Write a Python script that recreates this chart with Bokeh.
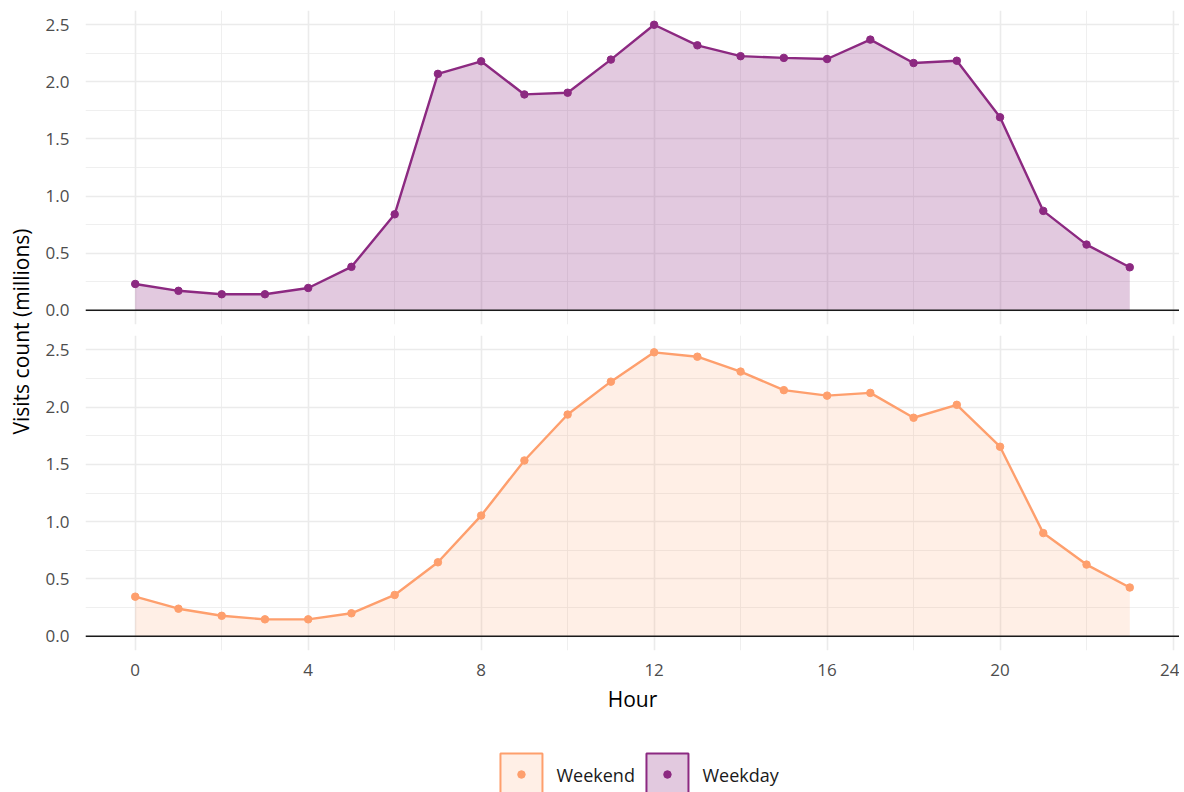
from bokeh.plotting import figure
from bokeh.layouts import column, row
from bokeh.models import (Range1d, FixedTicker, Grid, Span, Title, ColumnDataSource,
                          PrintfTickFormatter)
from bokeh.core.properties import value
from bokeh.embed import file_html
from bokeh.resources import INLINE

# ---------------- data ----------------
hours = list(range(24))
weekday = [0.23, 0.17, 0.14, 0.14, 0.195, 0.38, 0.84, 2.07, 2.18, 1.89, 1.905, 2.195,
           2.50, 2.32, 2.225, 2.21, 2.20, 2.37, 2.165, 2.185, 1.69, 0.87, 0.575, 0.376]
weekend = [0.345, 0.24, 0.178, 0.147, 0.147, 0.20, 0.36, 0.645, 1.053, 1.534, 1.935, 2.222,
           2.478, 2.44, 2.31, 2.148, 2.10, 2.124, 1.907, 2.02, 1.654, 0.90, 0.625, 0.425]
series_names = ["Weekend", "Weekday"]
x_major = [0, 4, 8, 12, 16, 20, 24]
x_minor = [2, 6, 10, 14, 18, 22]
y_major = [0.0, 0.5, 1.0, 1.5, 2.0, 2.5]
y_minor = [0.25, 0.75, 1.25, 1.75, 2.25]
x_title = "Hour"
y_title = "Visits count (millions)"

colors = {"Weekday": "#8C2981", "Weekend": "#FE9F6D"}
alphas = {"Weekday": 0.25, "Weekend": 0.17}
values = {"Weekday": weekday, "Weekend": weekend}

FONT = "Open Sans"
GRID = "#EBEBEB"
FRAME_W = 1094
YLAB_W = 39
LEFT = 85 - YLAB_W


def hide_default_grids(p):
    for r in p.center:
        if isinstance(r, Grid):
            r.visible = False


def add_grids(p):
    p.add_layout(Grid(dimension=0, ticker=FixedTicker(ticks=x_major, minor_ticks=x_minor),
                      grid_line_color=GRID, grid_line_width=1.6,
                      minor_grid_line_color=GRID, minor_grid_line_width=0.8), "center")
    p.add_layout(Grid(dimension=1, ticker=FixedTicker(ticks=y_major, minor_ticks=y_minor),
                      grid_line_color=GRID, grid_line_width=1.6,
                      minor_grid_line_color=GRID, minor_grid_line_width=0.8), "center")


def make_panel(name, frame_h, top_border, bottom_border, show_x):
    p = figure(frame_width=FRAME_W, frame_height=frame_h,
               x_range=Range1d(-1.15, 24.15), y_range=Range1d(-0.125, 2.625),
               x_axis_location="below" if show_x else None,
               output_backend="svg", toolbar_location=None,
               min_border_left=LEFT, min_border_right=0,
               min_border_top=top_border, min_border_bottom=bottom_border)
    p.outline_line_color = None
    p.background_fill_color = "white"
    hide_default_grids(p)
    add_grids(p)

    c = colors[name]
    src = ColumnDataSource(dict(hour=hours, visits=values[name]))
    p.varea(x="hour", y1=0, y2="visits", source=src, fill_color=c, fill_alpha=alphas[name])
    p.add_layout(Span(location=0, dimension="width", line_color="#1A1A1A", line_width=1.4))
    p.line("hour", "visits", source=src, line_color=c, line_width=2.4)
    p.scatter("hour", "visits", source=src, size=7.5, color=c)

    ya = p.yaxis[0]
    ya.ticker = FixedTicker(ticks=y_major, minor_ticks=y_minor)
    ya.formatter = PrintfTickFormatter(format="%.1f")
    ya.axis_line_color = None
    ya.major_tick_line_color = None
    ya.minor_tick_line_color = None
    ya.major_tick_out = 0
    ya.major_tick_in = 0
    ya.major_label_standoff = 12
    ya.major_label_text_font = FONT
    ya.major_label_text_font_size = "17px"
    ya.major_label_text_color = "#4D4D4D"

    if show_x:
        xa = p.xaxis[0]
        xa.ticker = FixedTicker(ticks=x_major, minor_ticks=x_minor)
        xa.axis_line_color = None
        xa.major_tick_line_color = None
        xa.minor_tick_line_color = None
        xa.major_tick_out = 0
        xa.major_tick_in = 0
        xa.major_label_standoff = 9
        xa.major_label_text_font = FONT
        xa.major_label_text_font_size = "17px"
        xa.major_label_text_color = "#4D4D4D"
        xa.axis_label = x_title
        xa.axis_label_standoff = 6
        xa.axis_label_text_font = FONT
        xa.axis_label_text_font_size = "21px"
        xa.axis_label_text_font_style = "normal"
        xa.axis_label_text_color = "#000000"
    return p


p_top = make_panel("Weekday", 314, 10, 5, False)
p_bot = make_panel("Weekend", 315, 6, 80, True)

# ---------------- legend (keys placed by series order on a linear scale) ----------------
leg = figure(frame_width=FRAME_W, frame_height=62,
             x_range=Range1d(-2.986, 4.507), y_range=Range1d(-18, 44),
             x_axis_location=None, y_axis_location=None,
             output_backend="svg", toolbar_location=None,
             min_border_left=LEFT, min_border_right=0,
             min_border_top=0, min_border_bottom=0)
leg.outline_line_color = None
hide_default_grids(leg)
leg_src = ColumnDataSource(dict(
    pos=list(range(len(series_names))),
    name=series_names,
    color=[colors[n] for n in series_names],
    alpha=[alphas[n] for n in series_names],
))
leg.rect(x="pos", y=0, width=42, height=42, width_units="screen", height_units="screen",
         source=leg_src, fill_color="color", fill_alpha="alpha", line_color="color",
         line_width=2)
leg.scatter(x="pos", y=0, source=leg_src, size=7.5, color="color")
leg.text(x="pos", y=0, text="name", source=leg_src, x_offset=35,
         text_align="left", text_baseline="middle",
         text_font=value(FONT), text_font_size="18px", text_color="#1A1A1A")

# ---------------- y title ----------------
ylab = figure(width=YLAB_W, height=662, x_axis_location=None, y_axis_location=None,
              output_backend="svg", toolbar_location=None, min_border=0)
ylab.outline_line_color = None
hide_default_grids(ylab)
ylab.add_layout(Title(text=y_title, align="center", text_font=FONT,
                      text_font_size="21px", text_font_style="normal",
                      text_color="#000000"), "left")

layout = row(ylab, column(p_top, p_bot, leg, spacing=0), spacing=0)

open("out.html", "w").write(file_html(layout, INLINE))
